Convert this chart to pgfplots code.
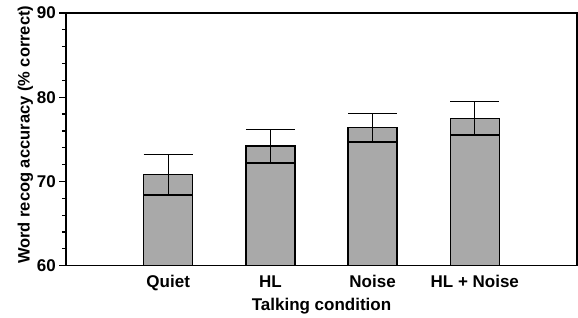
\documentclass[border=0pt]{standalone}
\usepackage{fontspec}
\setmainfont{Liberation Sans}
\usepackage{pgfplots}
\pgfplotsset{compat=1.18}
\definecolor{barfill}{RGB}{169,169,169}
\begin{document}
\begin{tikzpicture}
\path[use as bounding box] (-66pt,-51.3pt) rectangle (512pt,265.7pt);
\begin{axis}[
  scale only axis,
  width=511pt, height=252.7pt,
  at={(0,0)}, anchor=south west,
  ybar,
  xmin=0, xmax=5, ymin=60, ymax=90,
  xtick={1,2,3,4},
  xticklabels={Quiet,HL,Noise,HL + Noise},
  ytick={60,70,80,90},
  minor y tick num=4,
  tick align=outside,
  xtick pos=bottom, ytick pos=left,
  x tick style={draw=none},
  major tick length=6.7pt, minor tick length=4pt,
  tick style={line width=1.2pt, black},
  axis line style={line width=1.3pt},
  /pgf/number format/assume math mode=true,
  ticklabel style={font=\fontsize{17}{19}\selectfont\bfseries},
  xticklabel style={anchor=base, yshift=-15.4pt},
  yticklabel style={anchor=east},
  label style={font=\fontsize{17}{19}\selectfont\bfseries},
  xlabel={Talking condition},
  xlabel style={at={(axis description cs:0.5,0)}, anchor=base, yshift=-44.3pt},
  ylabel={Word recog accuracy (\% correct)},
  ylabel style={at={(axis description cs:-0.071,0.518)}, anchor=base, font=\fontsize{16.5}{18}\selectfont\bfseries},
]
\addplot[
  fill=barfill, draw=black, line width=1.3pt, bar width=49pt,
  error bars/.cd, y dir=both, y explicit,
  error bar style={line width=1.3pt, black},
  error mark options={rotate=90, mark size=24.5pt, line width=1.3pt, black},
] coordinates {
  (1,70.8) +- (0,2.4)
  (2,74.2) +- (0,2.0)
  (3,76.4) +- (0,1.7)
  (4,77.5) +- (0,2.0)
};
\end{axis}
\end{tikzpicture}
\end{document}
